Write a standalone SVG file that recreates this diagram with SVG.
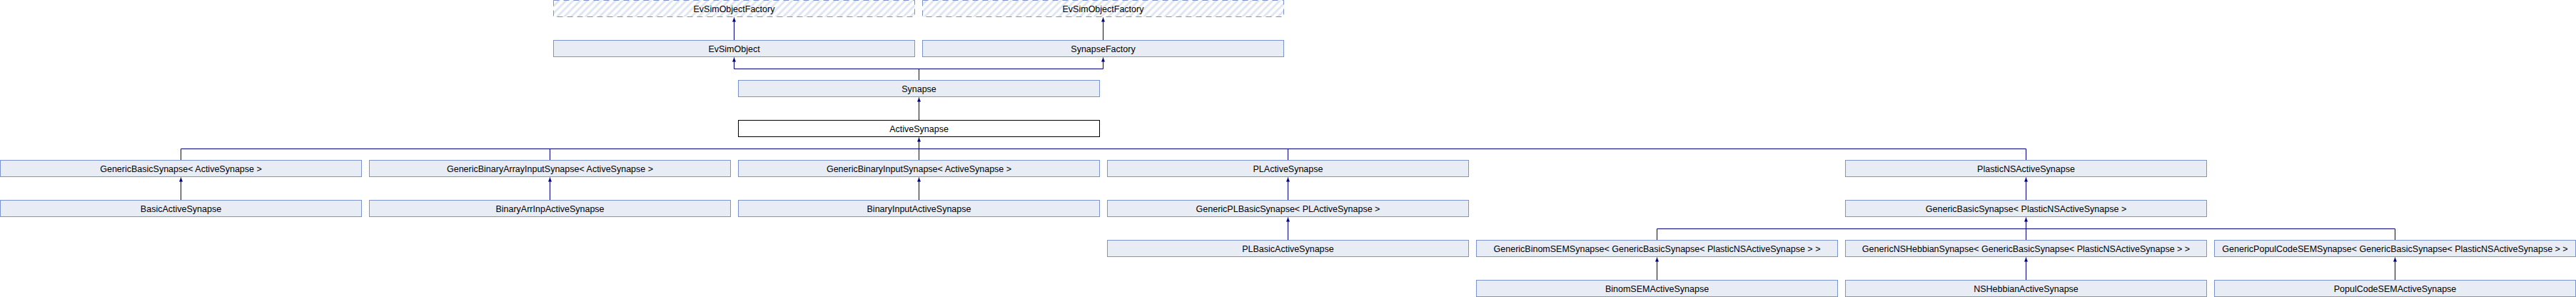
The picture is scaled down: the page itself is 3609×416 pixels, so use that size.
<svg xmlns="http://www.w3.org/2000/svg" width="3609" height="416" viewBox="0 0 3609 416">
<style>
.box rect{fill:#E8ECF5;stroke:#7B93CE;stroke-width:1}
.ext rect{fill:url(#hatch);stroke:#7B93CE;stroke-width:1;stroke-dasharray:8 6}
.cur rect{fill:#FFFFFF;stroke:#000000;stroke-width:1}
text{font-family:"Liberation Sans",Arial,sans-serif;font-size:12.5px;fill:#000000;text-anchor:middle}
.edges path{fill:none;stroke:#000080;stroke-width:1}
.edges path.a{marker-end:url(#arr)}
</style>
<defs>
<pattern id="hatch" patternUnits="userSpaceOnUse" width="7" height="7" patternTransform="rotate(45)">
<rect x="0" y="0" width="7" height="7" fill="#FFFFFF"/>
<rect x="0" y="0" width="3" height="7" fill="#E1E6F3"/>
</pattern>
<marker id="arr" markerUnits="userSpaceOnUse" markerWidth="7" markerHeight="6" refX="6" refY="3" orient="auto" viewBox="0 0 7 6">
<path d="M0,0.5 L6,3 L0,5.5 z" fill="#000080" stroke="none"/>
</marker>
</defs>
<rect width="3609" height="416" fill="#FFFFFF"/>
<g class="edges" id="connectors">
<path class="a" d="M1028.5,56 V24.5"/>
<path class="a" d="M1545.5,56 V24.5"/>
<path d="M1287.5,112 V96.5 M1028.5,96.5 H1545.5"/>
<path class="a" d="M1028.5,96.5 V80.5"/>
<path class="a" d="M1545.5,96.5 V80.5"/>
<path class="a" d="M1287.5,168 V136.5"/>
<path d="M253.5,208.5 H2838.5 M253.5,224 V208.5 M770.5,224 V208.5 M1287.5,224 V208.5 M1804.5,224 V208.5 M2838.5,224 V208.5"/>
<path class="a" d="M1287.5,208.5 V192.5"/>
<path class="a" d="M253.5,280 V248.5"/>
<path class="a" d="M770.5,280 V248.5"/>
<path class="a" d="M1287.5,280 V248.5"/>
<path class="a" d="M1804.5,280 V248.5"/>
<path class="a" d="M2838.5,280 V248.5"/>
<path class="a" d="M1804.5,336 V304.5"/>
<path d="M2321.5,320.5 H3355.5 M2321.5,336 V320.5 M2838.5,336 V320.5 M3355.5,336 V320.5"/>
<path class="a" d="M2838.5,320.5 V304.5"/>
<path class="a" d="M2321.5,392 V360.5"/>
<path class="a" d="M2838.5,392 V360.5"/>
<path class="a" d="M3355.5,392 V360.5"/>
</g>
<g id="EvSimObjectFactory1" class="ext"><rect x="775.5" y="0.5" width="506" height="23"/><text x="1028.5" y="16.5">EvSimObjectFactory</text></g>
<g id="EvSimObjectFactory2" class="ext"><rect x="1292.5" y="0.5" width="506" height="23"/><text x="1545.5" y="16.5">EvSimObjectFactory</text></g>
<g id="EvSimObject" class="box"><rect x="775.5" y="56.5" width="506" height="23"/><text x="1028.5" y="72.5">EvSimObject</text></g>
<g id="SynapseFactory" class="box"><rect x="1292.5" y="56.5" width="506" height="23"/><text x="1545.5" y="72.5">SynapseFactory</text></g>
<g id="Synapse" class="box"><rect x="1034.5" y="112.5" width="506" height="23"/><text x="1287.5" y="128.5">Synapse</text></g>
<g id="ActiveSynapse" class="cur"><rect x="1034.5" y="168.5" width="506" height="23"/><text x="1287.5" y="184.5">ActiveSynapse</text></g>
<g id="GenericBasicSynapseActive" class="box"><rect x="0.5" y="224.5" width="506" height="23"/><text x="253.5" y="240.5">GenericBasicSynapse&lt; ActiveSynapse &gt;</text></g>
<g id="GenericBinaryArrayInputSynapse" class="box"><rect x="517.5" y="224.5" width="506" height="23"/><text x="770.5" y="240.5">GenericBinaryArrayInputSynapse&lt; ActiveSynapse &gt;</text></g>
<g id="GenericBinaryInputSynapse" class="box"><rect x="1034.5" y="224.5" width="506" height="23"/><text x="1287.5" y="240.5">GenericBinaryInputSynapse&lt; ActiveSynapse &gt;</text></g>
<g id="PLActiveSynapse" class="box"><rect x="1551.5" y="224.5" width="506" height="23"/><text x="1804.5" y="240.5">PLActiveSynapse</text></g>
<g id="PlasticNSActiveSynapse" class="box"><rect x="2585.5" y="224.5" width="506" height="23"/><text x="2838.5" y="240.5">PlasticNSActiveSynapse</text></g>
<g id="BasicActiveSynapse" class="box"><rect x="0.5" y="280.5" width="506" height="23"/><text x="253.5" y="296.5">BasicActiveSynapse</text></g>
<g id="BinaryArrInpActiveSynapse" class="box"><rect x="517.5" y="280.5" width="506" height="23"/><text x="770.5" y="296.5">BinaryArrInpActiveSynapse</text></g>
<g id="BinaryInputActiveSynapse" class="box"><rect x="1034.5" y="280.5" width="506" height="23"/><text x="1287.5" y="296.5">BinaryInputActiveSynapse</text></g>
<g id="GenericPLBasicSynapse" class="box"><rect x="1551.5" y="280.5" width="506" height="23"/><text x="1804.5" y="296.5">GenericPLBasicSynapse&lt; PLActiveSynapse &gt;</text></g>
<g id="GenericBasicSynapsePlasticNS" class="box"><rect x="2585.5" y="280.5" width="506" height="23"/><text x="2838.5" y="296.5">GenericBasicSynapse&lt; PlasticNSActiveSynapse &gt;</text></g>
<g id="PLBasicActiveSynapse" class="box"><rect x="1551.5" y="336.5" width="506" height="23"/><text x="1804.5" y="352.5">PLBasicActiveSynapse</text></g>
<g id="GenericBinomSEMSynapse" class="box"><rect x="2068.5" y="336.5" width="506" height="23"/><text x="2321.5" y="352.5">GenericBinomSEMSynapse&lt; GenericBasicSynapse&lt; PlasticNSActiveSynapse &gt; &gt;</text></g>
<g id="GenericNSHebbianSynapse" class="box"><rect x="2585.5" y="336.5" width="506" height="23"/><text x="2838.5" y="352.5">GenericNSHebbianSynapse&lt; GenericBasicSynapse&lt; PlasticNSActiveSynapse &gt; &gt;</text></g>
<g id="GenericPopulCodeSEMSynapse" class="box"><rect x="3102.5" y="336.5" width="506" height="23"/><text x="3355.5" y="352.5">GenericPopulCodeSEMSynapse&lt; GenericBasicSynapse&lt; PlasticNSActiveSynapse &gt; &gt;</text></g>
<g id="BinomSEMActiveSynapse" class="box"><rect x="2068.5" y="392.5" width="506" height="23"/><text x="2321.5" y="408.5">BinomSEMActiveSynapse</text></g>
<g id="NSHebbianActiveSynapse" class="box"><rect x="2585.5" y="392.5" width="506" height="23"/><text x="2838.5" y="408.5">NSHebbianActiveSynapse</text></g>
<g id="PopulCodeSEMActiveSynapse" class="box"><rect x="3102.5" y="392.5" width="506" height="23"/><text x="3355.5" y="408.5">PopulCodeSEMActiveSynapse</text></g>
</svg>
